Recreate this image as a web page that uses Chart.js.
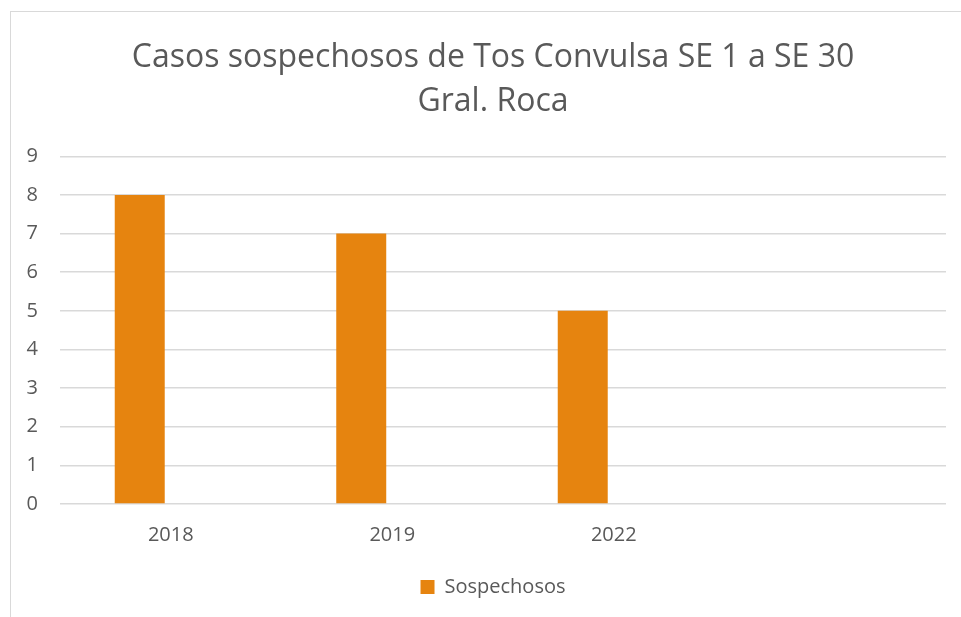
<!DOCTYPE html>
<html>
<head>
<meta charset="utf-8">
<script src="https://cdn.jsdelivr.net/npm/chart.js@4/dist/chart.umd.min.js"></script>
<style>
  html, body { margin: 0; padding: 0; background: #fff; }
  #frame { position: absolute; left: 10px; top: 11px; width: 960px; height: 620px; border: 1px solid #d9d9d9; box-sizing: border-box; }
  #wrap { position: absolute; left: 0; top: 0; width: 961px; height: 617px; }
</style>
</head>
<body>
<div id="frame"></div>
<div id="wrap"><canvas id="chart"></canvas></div>
<script>
const years = ['2018', '2019', '2022', ''];
const sospechosos = [8, 7, 5, null];
const otros = [null, null, null, null];
const yTicks = [0, 1, 2, 3, 4, 5, 6, 7, 8, 9];

const textColor = '#595959';
const gridColor = '#d9d9d9';
const font = "'Open Sans', sans-serif";

// the chart frame runs past the right edge, so title and legend sit right of the canvas centre
const shiftBlocks = {
  id: 'shiftBlocks',
  afterLayout(chart) {
    [chart.titleBlock, chart.legend].forEach(b => {
      if (b) { b.left += 15; b.right += 15; }
    });
  }
};

new Chart(document.getElementById('chart'), {
  type: 'bar',
  data: {
    labels: years,
    datasets: [
      { label: 'Sospechosos', data: sospechosos, backgroundColor: '#e6840f', categoryPercentage: 0.56, barPercentage: 0.806 },
      { label: '', data: otros, backgroundColor: '#a5a5a5', categoryPercentage: 0.56, barPercentage: 0.806 }
    ]
  },
  plugins: [shiftBlocks],
  options: {
    responsive: true,
    maintainAspectRatio: false,
    animation: false,
    layout: { padding: { left: 10, right: 15, top: 36, bottom: 10 } },
    plugins: {
      title: {
        display: true,
        text: ['Casos sospechosos de Tos Convulsa SE 1 a SE 30', 'Gral. Roca'],
        color: textColor,
        font: { family: font, size: 32, weight: 'normal', lineHeight: 1.38 },
        padding: { top: 0, bottom: 32 }
      },
      legend: {
        position: 'bottom',
        labels: {
          color: textColor,
          font: { family: font, size: 20 },
          boxWidth: 14,
          boxHeight: 14,
          filter: item => item.text !== ''
        }
      },
      tooltip: { enabled: false }
    },
    scales: {
      x: {
        afterFit: s => { s.height = 63; },
        grid: { display: false },
        border: { display: false },
        ticks: { color: textColor, font: { family: font, size: 20 }, padding: 11 }
      },
      y: {
        min: 0,
        max: 9,
        afterFit: s => { s.width = 50; },
        afterBuildTicks: s => { s.ticks = yTicks.map(v => ({ value: v })); },
        grid: { color: gridColor, lineWidth: 1.5, drawTicks: false },
        border: { display: false },
        ticks: { color: textColor, font: { family: font, size: 20 }, padding: 22 }
      }
    }
  }
});
</script>
</body>
</html>
